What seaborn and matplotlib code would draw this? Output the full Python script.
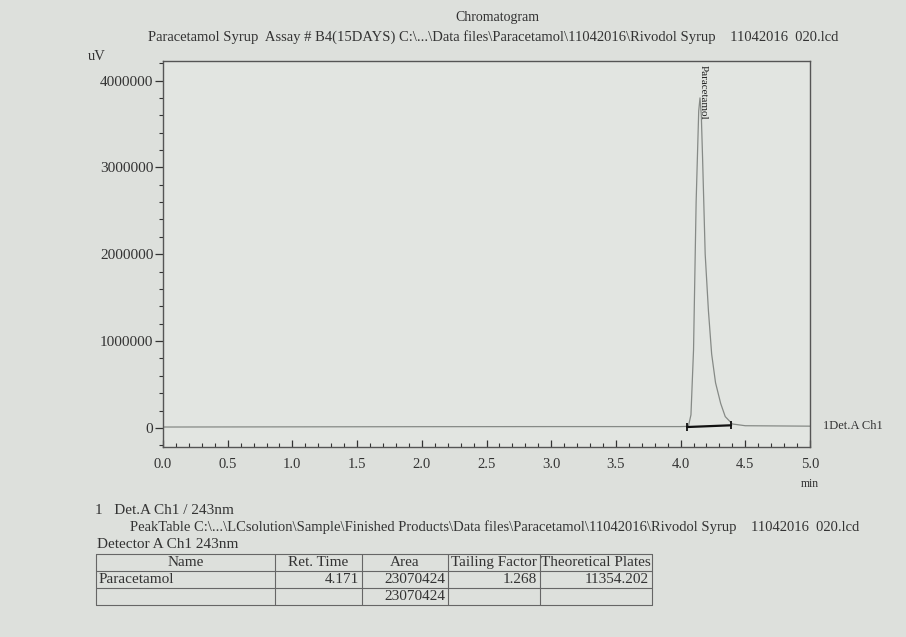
import matplotlib
matplotlib.use("Agg")
import matplotlib.pyplot as plt
from matplotlib.ticker import MultipleLocator, FuncFormatter
from matplotlib.patches import Rectangle
import seaborn as sns
import pandas as pd

# ---- data ----
time_min = [0.0, 1.0, 2.0, 3.0, 4.0, 4.06, 4.08, 4.10, 4.12, 4.14, 4.15, 4.16,
            4.17, 4.19, 4.215, 4.24, 4.27, 4.31, 4.345, 4.40, 4.5, 5.0]
signal_uv = [10000, 12000, 14000, 15000, 15000, 18000, 150000, 900000, 2600000,
             3650000, 3800000, 3600000, 3100000, 2000000, 1350000, 850000,
             520000, 280000, 130000, 45000, 25000, 20000]
peak_name = "Paracetamol"
peak_ret_time = 4.171
peak_start, peak_end = 4.05, 4.39
x_ticks = [0.0, 0.5, 1.0, 1.5, 2.0, 2.5, 3.0, 3.5, 4.0, 4.5, 5.0]
y_ticks = [0, 1000000, 2000000, 3000000, 4000000]

table_cols = ["Name", "Ret. Time", "Area", "Tailing Factor", "Theoretical Plates"]
table_row = ["Paracetamol", "4.171", "23070424", "1.268", "11354.202"]
table_total = ["", "", "23070424", "", ""]

title1 = "Chromatogram"
title2 = ("Paracetamol Syrup  Assay # B4(15DAYS) C:\\...\\Data files\\Paracetamol\\11042016\\"
          "Rivodol Syrup    11042016  020.lcd")
peaktable_path = ("PeakTable C:\\...\\LCsolution\\Sample\\Finished Products\\Data files\\"
                  "Paracetamol\\11042016\\Rivodol Syrup    11042016  020.lcd")

# ---- style ----
sns.set_theme(style="white")
plt.rcParams['font.family'] = ['Liberation Serif', 'DejaVu Serif']
ink = "#333333"
bg = "#dde0dc"

W, H = 906, 637
fig = plt.figure(figsize=(W / 100, H / 100), dpi=100, facecolor=bg)

# overlay in pixel coordinates for free texts and the peak table
ov = fig.add_axes([0, 0, 1, 1], zorder=0)
ov.set_xlim(0, W)
ov.set_ylim(H, 0)
ov.axis("off")
ov.patch.set_alpha(0)

# main chromatogram axes
L, R, T, B = 163, 810, 61, 447
ax = fig.add_axes([L / W, 1 - B / H, (R - L) / W, (B - T) / H], zorder=1)
ax.set_facecolor("#e2e5e1")

df = pd.DataFrame({"t": time_min, "v": signal_uv})
sns.lineplot(data=df, x="t", y="v", ax=ax, color="#868a86", lw=0.9,
             estimator=None, sort=False)

# integration baseline marker
ax.plot([peak_start, peak_end], [10000, 30000], color="#111111", lw=1.6,
        marker="|", markersize=6, markeredgewidth=1.3)

ax.set_xlim(0, 5.0)
ax.set_ylim(-220000, 4225000)
ax.set_xlabel("")
ax.set_ylabel("")
ax.set_xticks(x_ticks)
ax.xaxis.set_minor_locator(MultipleLocator(0.1))
ax.set_yticks(y_ticks)
ax.yaxis.set_minor_locator(MultipleLocator(200000))
ax.yaxis.set_major_formatter(FuncFormatter(lambda v, p: f"{int(v)}"))
ax.xaxis.set_major_formatter(FuncFormatter(lambda v, p: f"{v:.1f}"))
ax.tick_params(axis="y", which="major", direction="out", length=6, width=0.9,
               color=ink, labelsize=11, labelcolor=ink, pad=1, left=True)
ax.tick_params(axis="y", which="minor", direction="out", length=3, width=0.8,
               color=ink, left=True)
ax.tick_params(axis="x", which="major", direction="in", length=5, width=0.9,
               color=ink, labelsize=10.5, labelcolor=ink, pad=8, bottom=True)
ax.tick_params(axis="x", which="minor", direction="in", length=3, width=0.8,
               color=ink, bottom=True)
for s in ax.spines.values():
    s.set_color("#555555")
    s.set_linewidth(1.0)
    s.set_visible(True)
ax.grid(False)

ax.annotate("min", xy=(5.0, 0), xycoords=("data", "axes fraction"),
            xytext=(0, -22), textcoords="offset points", ha="center", va="top",
            fontsize=8.5, color=ink)
ax.text(peak_ret_time, 4180000, peak_name, rotation=270, ha="center", va="top",
        fontsize=8, color="#222222")
ax.text(5.1, 20000, "1Det.A Ch1", ha="left", va="center", fontsize=9,
        color=ink, clip_on=False)

# titles
ov.text(497, 17, title1, ha="center", va="center", fontsize=10, color=ink)
ov.text(493, 37, title2, ha="center", va="center", fontsize=10.5, color=ink)
ov.text(88, 57, "uV", ha="left", va="center", fontsize=10.5, color=ink)

# peak table section
ov.text(95, 510, "1   Det.A Ch1 / 243nm", ha="left", va="center", fontsize=11, color=ink)
ov.text(130, 527, peaktable_path, ha="left", va="center", fontsize=10.5, color=ink)
ov.text(97, 545, "Detector A Ch1 243nm", ha="left", va="center", fontsize=11, color=ink)

col_x = [96, 275, 362, 448, 540, 652]
row_y = [554, 571, 588, 605]
lc = "#666666"
for y in row_y:
    ov.plot([col_x[0], col_x[-1]], [y, y], color=lc, lw=0.8)
for i, x in enumerate(col_x):
    ov.plot([x, x], [row_y[0], row_y[-1]], color=lc, lw=0.8)

for i, name in enumerate(table_cols):
    cx = (col_x[i] + col_x[i + 1]) / 2
    t = ov.text(cx, (row_y[0] + row_y[1]) / 2, name, ha="center", va="center",
                fontsize=11, color=ink)
    clip = Rectangle((col_x[i], row_y[0]), col_x[i + 1] - col_x[i],
                     row_y[1] - row_y[0], transform=ov.transData)
    t.set_clip_path(clip)

for rvals, r in ((table_row, 1), (table_total, 2)):
    yc = (row_y[r] + row_y[r + 1]) / 2
    for i, val in enumerate(rvals):
        if not val:
            continue
        if i == 0:
            ov.text(col_x[0] + 3, yc, val, ha="left", va="center", fontsize=11, color=ink)
        else:
            ov.text(col_x[i + 1] - 3, yc, val, ha="right", va="center", fontsize=11, color=ink)

fig.savefig("out.png", dpi=100, facecolor=bg)
